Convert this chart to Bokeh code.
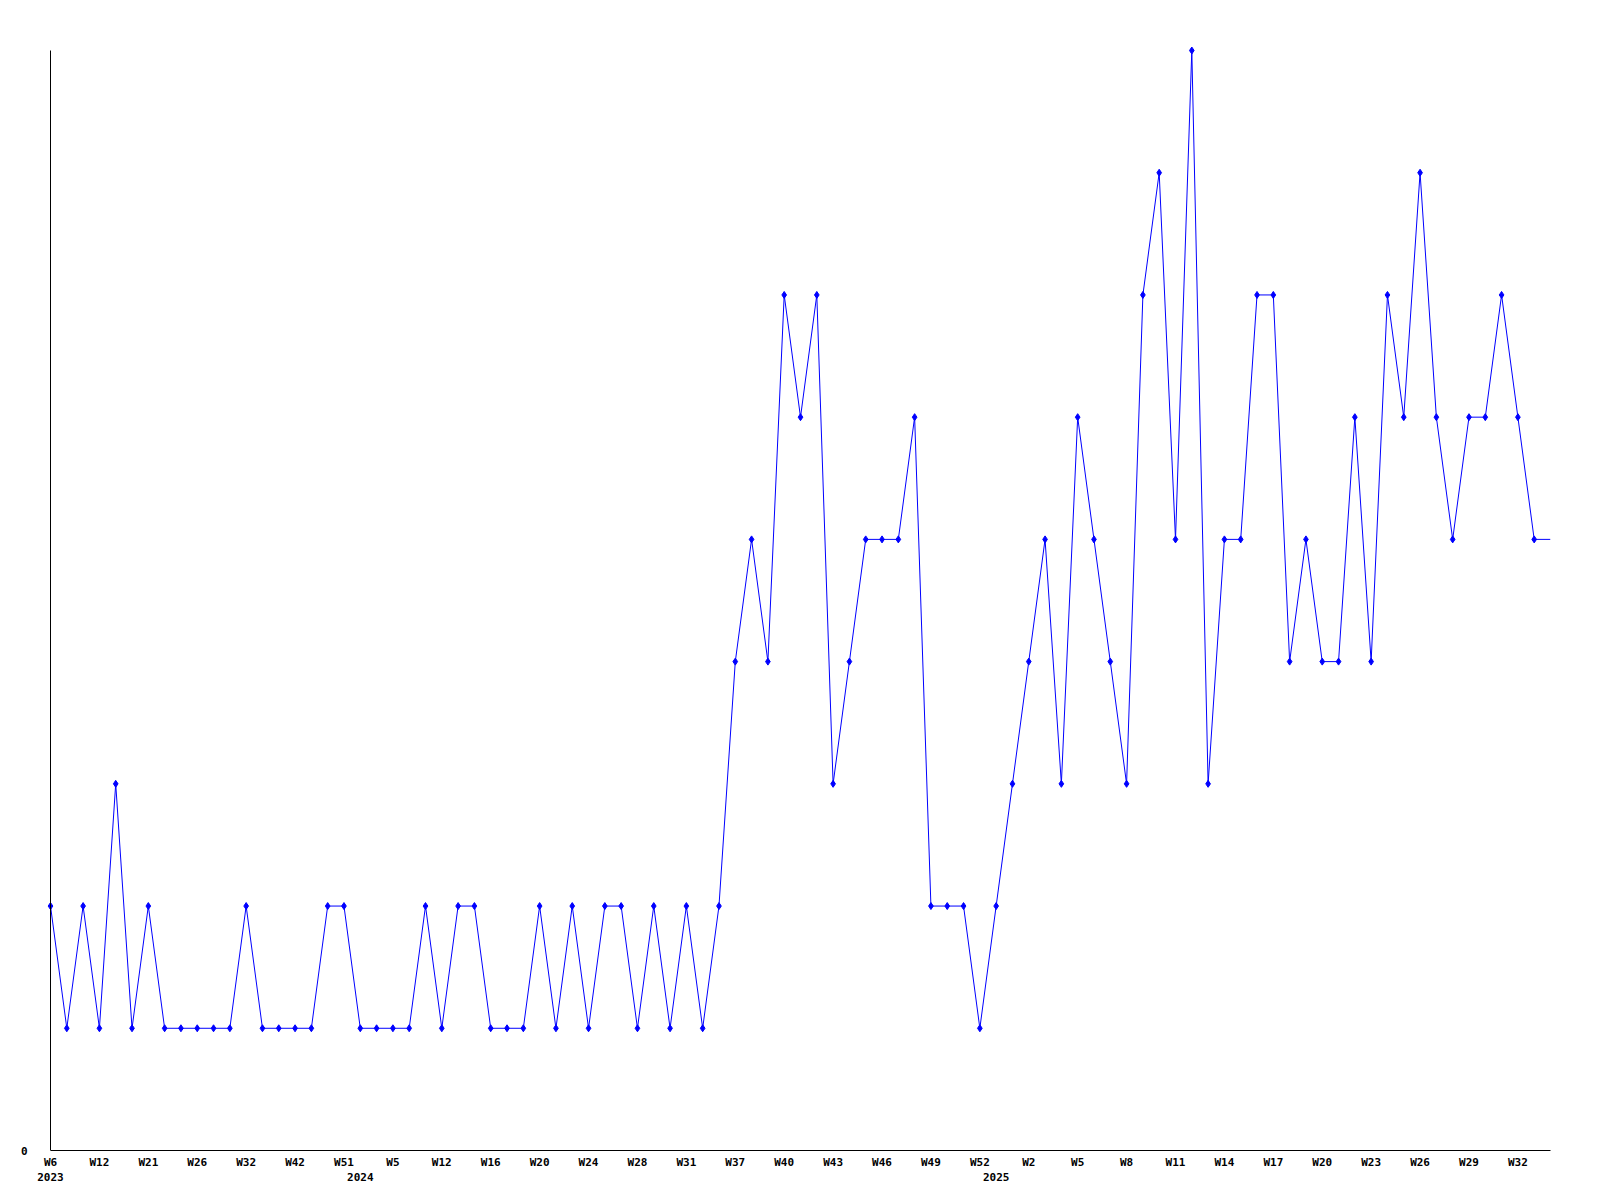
from bokeh.plotting import figure
from bokeh.models import Range1d, FixedTicker, LinearAxis
from bokeh.embed import file_html
from bokeh.resources import INLINE

values = [2, 1, 2, 1, 3, 1, 2, 1, 1, 1,
          1, 1, 2, 1, 1, 1, 1, 2, 2, 1,
          1, 1, 1, 2, 1, 2, 2, 1, 1, 1,
          2, 1, 2, 1, 2, 2, 1, 2, 1, 2,
          1, 2, 4, 5, 4, 7, 6, 7, 3, 4,
          5, 5, 5, 6, 2, 2, 2, 1, 2, 3,
          4, 5, 3, 6, 5, 4, 3, 7, 8, 5,
          9, 3, 5, 5, 7, 7, 4, 5, 4, 4,
          6, 4, 7, 6, 8, 6, 5, 6, 6, 7,
          6, 5, 5]

# Week tick labels (every third point)
week_labels = ["W6", "W12", "W21", "W26", "W32", "W42", "W51", "W5", "W12", "W16",
               "W20", "W24", "W28", "W31", "W37", "W40", "W43", "W46", "W49", "W52",
               "W2", "W5", "W8", "W11", "W14", "W17", "W20", "W23", "W26", "W29", "W32"]
label_step = 3

# Year labels and the index of the first point in each year
year_labels = ["2023", "2024", "2025"]
year_start = [0, 19, 58]

n_visible = 92          # points spanning the visible x extent
y_max = 9

xs = list(range(len(values)))

FONT = "DejaVu Sans Mono"

ux = 1500 / n_visible
uy = 1100 / y_max

p = figure(
    output_backend="svg",
    toolbar_location=None,
    x_range=Range1d(-4 / ux, n_visible),
    y_range=Range1d(0, y_max + 4 / uy),
    frame_width=1504,
    frame_height=1104,
    min_border_left=46,
    min_border_top=46,
    min_border_right=30,
    min_border_bottom=4,
)
p.outline_line_color = None
p.xgrid.grid_line_color = None
p.ygrid.grid_line_color = None
p.background_fill_color = "white"
p.border_fill_color = "white"

# Series
p.line(xs, values, line_color="#0000ff", line_width=1)
p.scatter(xs[:n_visible], values[:n_visible], marker="diamond", size=7,
          fill_color="#0000ff", line_color="#0000ff")


def style_labels(ax):
    ax.major_tick_in = 0
    ax.major_tick_out = 0
    ax.minor_tick_in = 0
    ax.minor_tick_out = 0
    ax.major_label_text_font = FONT
    ax.major_label_text_font_style = "bold"
    ax.major_label_text_font_size = "11px"
    ax.major_label_text_color = "black"


# X axis (weeks)
xa = p.xaxis[0]
tick_pos = [i * label_step for i in range(len(week_labels))]
xa.ticker = FixedTicker(ticks=tick_pos)
xa.major_label_overrides = {t: lab for t, lab in zip(tick_pos, week_labels)}
xa.bounds = (0, n_visible)
xa.axis_line_color = "black"
xa.axis_line_width = 1
style_labels(xa)
xa.major_label_standoff = 5

# Year axis
ya2 = LinearAxis(
    ticker=FixedTicker(ticks=year_start),
    major_label_overrides={t: lab for t, lab in zip(year_start, year_labels)},
    axis_line_color=None,
    major_label_standoff=1,
)
style_labels(ya2)
p.add_layout(ya2, "below")

# Y axis: label "0" at the frame's left side, no line
ya = p.yaxis[0]
ya.ticker = FixedTicker(ticks=[0])
ya.axis_line_color = None
style_labels(ya)
ya.major_label_standoff = 19

# Y axis line placed at x = 0
yline = LinearAxis(
    ticker=FixedTicker(ticks=[0]),
    major_label_overrides={0: ""},
    fixed_location=0,
    bounds=(0, y_max),
    axis_line_color="black",
    axis_line_width=1,
    major_label_standoff=0,
)
style_labels(yline)
p.add_layout(yline, "left")

open("out.html", "w").write(file_html(p, INLINE))
